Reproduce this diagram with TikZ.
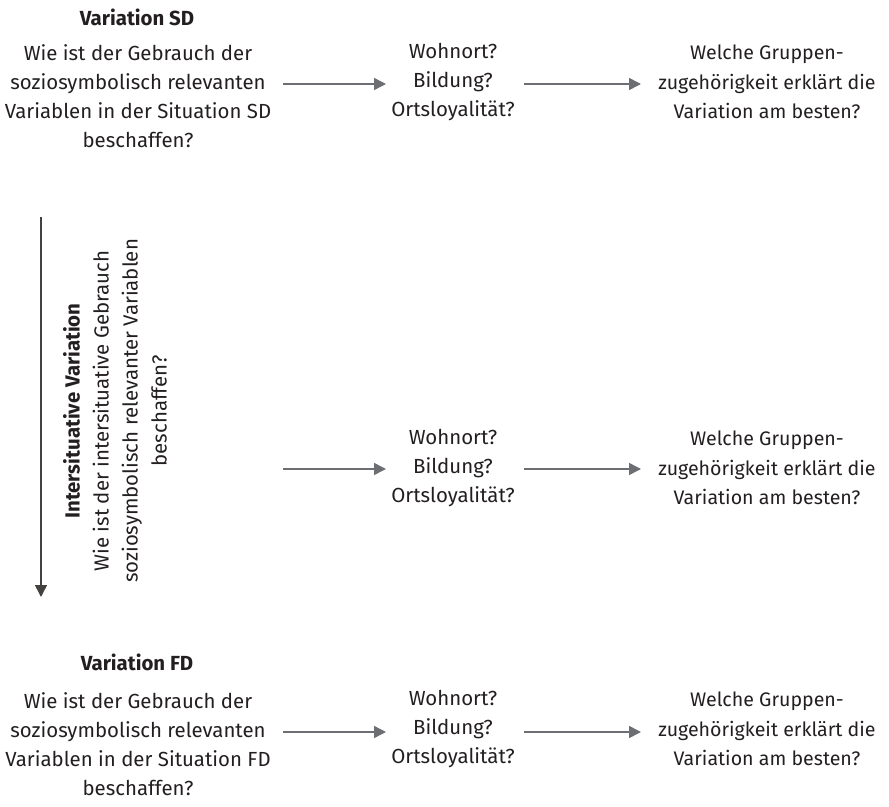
\documentclass[tikz,border=0pt]{standalone}
\usepackage{fontspec}
\setmainfont{Fira Sans}
\usetikzlibrary{arrows.meta}
\definecolor{txt}{HTML}{231F20}
\definecolor{arrgray}{HTML}{6D6E71}
\begin{document}
\begin{tikzpicture}[x=1pt,y=-1pt,
  every node/.style={text=txt,font=\fontsize{20.4}{29}\selectfont,align=center,inner sep=0pt},
  ttl/.style={font=\fontsize{20.4}{29}\selectfont\bfseries},
  rcol/.style={font=\fontsize{19.6}{29.5}\selectfont},
  arr/.style={draw=arrgray,line width=1.5pt,-{Triangle[length=12pt,width=12pt]}},
  varr/.style={draw=txt!85,line width=1.5pt,-{Triangle[length=12pt,width=12pt]}}]
\useasboundingbox (0,0) rectangle (889,806);
% top row
\node[ttl] (sdt) at (137,17) {Variation SD};
\node (sdq) at (138,96) {Wie ist der Gebrauch der\\soziosymbolisch relevanten\\Variablen in der Situation SD\\beschaffen?};
\node (sdm) at (453,82) {Wohnort?\\Bildung?\\Ortsloyalität?};
\node[rcol] (sdr) at (767,82) {Welche Gruppen-\\zugehörigkeit erklärt die\\Variation am besten?};
\coordinate (a1s) at (283,84); \coordinate (a1e) at (386,84);
\coordinate (a2s) at (524,84); \coordinate (a2e) at (641,84);
\draw[arr] (a1s) -- (a1e);
\draw[arr] (a2s) -- (a2e);
% middle row
\node[rotate=90] (isv) at (115,411) {\textbf{Intersituative Variation}\\Wie ist der intersituative Gebrauch\\soziosymbolisch relevanter Variablen\\beschaffen?};
\node (im) at (453,468) {Wohnort?\\Bildung?\\Ortsloyalität?};
\node[rcol] (ir) at (767,468) {Welche Gruppen-\\zugehörigkeit erklärt die\\Variation am besten?};
\coordinate (b1s) at (283,469); \coordinate (b1e) at (386,469);
\coordinate (b2s) at (524,469); \coordinate (b2e) at (641,469);
\draw[arr] (b1s) -- (b1e);
\draw[arr] (b2s) -- (b2e);
\coordinate (vs) at (41,217); \coordinate (ve) at (41,597);
\draw[varr] (vs) -- (ve);
% bottom row
\node[ttl] (fdt) at (137,662) {Variation FD};
\node (fdq) at (138,744) {Wie ist der Gebrauch der\\soziosymbolisch relevanten\\Variablen in der Situation FD\\beschaffen?};
\node (fdm) at (453,729) {Wohnort?\\Bildung?\\Ortsloyalität?};
\node[rcol] (fdr) at (767,729) {Welche Gruppen-\\zugehörigkeit erklärt die\\Variation am besten?};
\coordinate (c1s) at (283,732); \coordinate (c1e) at (386,732);
\coordinate (c2s) at (524,732); \coordinate (c2e) at (641,732);
\draw[arr] (c1s) -- (c1e);
\draw[arr] (c2s) -- (c2e);
\end{tikzpicture}
\end{document}
